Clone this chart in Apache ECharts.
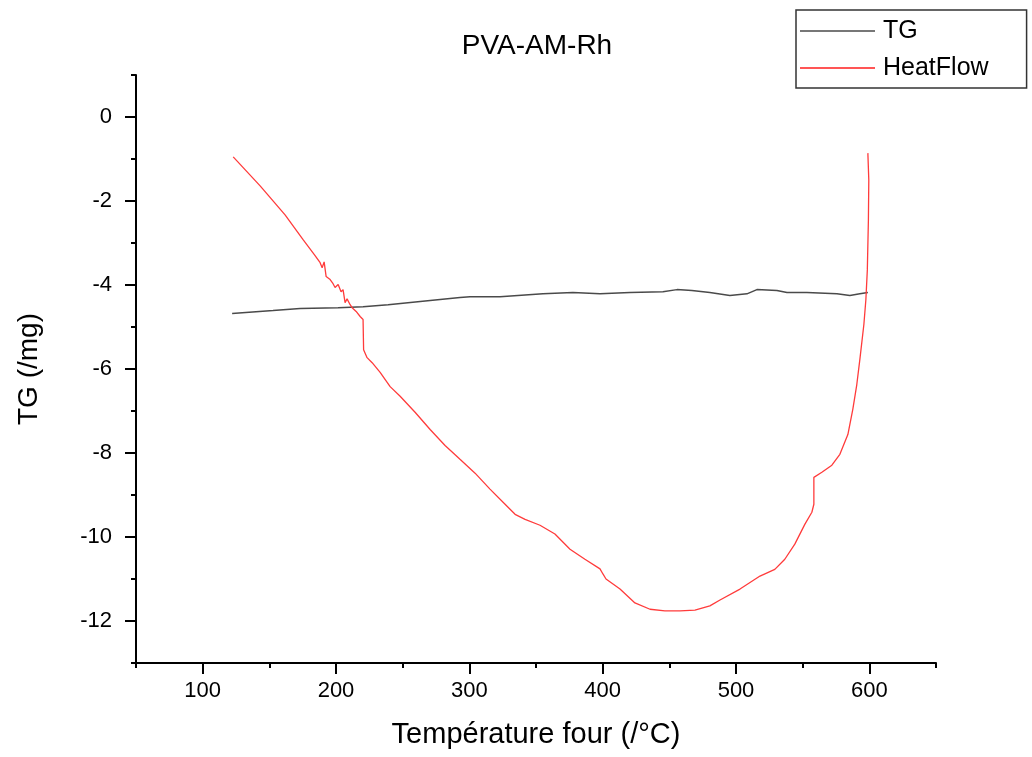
<!DOCTYPE html>
<html>
<head>
<meta charset="utf-8">
<script src="https://cdn.jsdelivr.net/npm/echarts@6/dist/echarts.min.js"></script>
<style>html,body{margin:0;padding:0;background:#fff}#c{width:1032px;height:757px}</style>
</head>
<body>
<div id="c"></div>
<script>
// Tick values
const xMajorTicks = [100, 200, 300, 400, 500, 600];
const xMinorTicks = [50, 150, 250, 350, 450, 550, 650];
const yMajorTicks = [-12, -10, -8, -6, -4, -2, 0];
const yMinorTicks = [-13, -11, -9, -7, -5, -3, -1, 1];

// TG series (temperature, value)
const tgX = [122.1, 152.8, 173.1, 201.6, 220.3, 239.1, 270.6, 293.0, 300.5, 323.0, 355.2, 377.7, 398.0, 420.5, 445.2, 455.7, 466.9, 480.4, 495.4, 508.2, 515.7, 530.7, 538.2, 553.2, 575.7, 585.4, 592.9, 598.9];
const tgY = [-4.68, -4.61, -4.56, -4.54, -4.52, -4.47, -4.37, -4.30, -4.28, -4.28, -4.21, -4.18, -4.21, -4.18, -4.16, -4.11, -4.13, -4.18, -4.25, -4.21, -4.11, -4.13, -4.18, -4.18, -4.21, -4.25, -4.21, -4.18];

// HeatFlow series (temperature, value)
const hfX = [122.9, 143.1, 161.8, 175.3, 184.3, 188.1, 189.6, 191.1, 192.6, 195.6, 197.8, 199.3, 201.6, 203.8, 205.3, 206.8, 208.3, 210.6, 212.1, 215.1, 218.1, 220.3, 220.7, 223.3, 227.1, 233.1, 240.6, 248.1, 259.3, 270.6, 281.8, 293.0, 304.3, 315.5, 326.8, 334.3, 341.8, 353.0, 364.2, 375.5, 386.7, 398.0, 400.2, 402.5, 413.0, 424.2, 435.5, 446.7, 458.0, 469.2, 480.4, 488.0, 503.0, 518.0, 529.1, 536.6, 544.1, 551.6, 556.9, 558.4, 558.4, 564.4, 571.9, 577.9, 583.9, 587.6, 590.6, 592.9, 595.9, 597.4, 598.5, 599.3, 599.6, 598.9];
const hfY = [-0.95, -1.64, -2.33, -2.92, -3.30, -3.47, -3.59, -3.45, -3.80, -3.87, -3.97, -4.06, -3.99, -4.16, -4.11, -4.42, -4.33, -4.47, -4.54, -4.63, -4.75, -4.82, -5.54, -5.73, -5.85, -6.08, -6.42, -6.65, -7.03, -7.44, -7.82, -8.15, -8.48, -8.86, -9.22, -9.46, -9.58, -9.72, -9.93, -10.29, -10.53, -10.76, -10.88, -11.00, -11.24, -11.57, -11.72, -11.76, -11.76, -11.74, -11.64, -11.50, -11.24, -10.93, -10.77, -10.53, -10.17, -9.70, -9.41, -9.22, -8.58, -8.46, -8.29, -8.03, -7.56, -6.96, -6.37, -5.77, -4.94, -4.35, -3.64, -2.45, -1.50, -0.86];

const FONT = '"Liberation Sans", Arial, sans-serif';
const zip = (a, b) => a.map((v, i) => [v, b[i]]);

const chart = echarts.init(document.getElementById('c'), null, {renderer: 'canvas'});
const axisLineStyle = {color: '#000', width: 2};
chart.setOption({
  animation: false,
  backgroundColor: '#fff',
  title: {
    text: 'PVA-AM-Rh', left: 532, top: 27, textAlign: 'center',
    textStyle: {fontFamily: FONT, fontSize: 28, fontWeight: 'normal', color: '#000'}
  },
  legend: {
    orient: 'vertical', left: 796, top: 10,
    padding: [6, 38, 5, 4], itemGap: 7,
    itemWidth: 75, itemHeight: 2, icon: 'rect',
    borderColor: '#333', borderWidth: 1.5,
    textStyle: {fontFamily: FONT, fontSize: 25, color: '#000', lineHeight: 30, padding: [0, 0, 0, 3]},
    data: [
      {name: 'TG', itemStyle: {color: '#777'}},
      {name: 'HeatFlow', itemStyle: {color: '#ff5555'}}
    ]
  },
  grid: {left: 136, right: 96, top: 75, bottom: 94, containLabel: false},
  xAxis: [{
    type: 'value', min: 50, max: 650, position: 'bottom',
    name: 'Température four (/°C)', nameLocation: 'middle', nameGap: 57,
    nameTextStyle: {fontFamily: FONT, fontSize: 29, color: '#000'},
    axisLine: {show: true, onZero: false, lineStyle: axisLineStyle},
    axisTick: {show: true, length: 11, lineStyle: {color: '#000', width: 2}, customValues: xMajorTicks},
    axisLabel: {fontFamily: FONT, fontSize: 22, color: '#000', margin: 17, customValues: xMajorTicks},
    splitLine: {show: false}
  }, {
    type: 'value', min: 50, max: 650, position: 'bottom',
    axisLine: {show: false, onZero: false},
    axisTick: {show: true, length: 5, lineStyle: {color: '#000', width: 2}, customValues: xMinorTicks},
    axisLabel: {show: false},
    splitLine: {show: false}
  }],
  yAxis: [{
    type: 'value', min: -13, max: 1, position: 'left',
    name: 'TG (/mg)', nameLocation: 'middle', nameGap: 93,
    nameTextStyle: {fontFamily: FONT, fontSize: 28, color: '#000'},
    axisLine: {show: true, onZero: false, lineStyle: axisLineStyle},
    axisTick: {show: true, length: 11, lineStyle: {color: '#000', width: 2}, customValues: yMajorTicks},
    axisLabel: {fontFamily: FONT, fontSize: 22, color: '#000', margin: 24, customValues: yMajorTicks},
    splitLine: {show: false}
  }, {
    type: 'value', min: -13, max: 1, position: 'left',
    axisLine: {show: false, onZero: false},
    axisTick: {show: true, length: 5, lineStyle: {color: '#000', width: 2}, customValues: yMinorTicks},
    axisLabel: {show: false},
    splitLine: {show: false}
  }],
  series: [{
    name: 'TG', type: 'line', xAxisIndex: 0, yAxisIndex: 0,
    data: zip(tgX, tgY), symbol: 'none', showSymbol: false,
    lineStyle: {color: '#4a4a4a', width: 1.5}, itemStyle: {color: '#777'}
  }, {
    name: 'HeatFlow', type: 'line', xAxisIndex: 0, yAxisIndex: 0,
    data: zip(hfX, hfY), symbol: 'none', showSymbol: false,
    lineStyle: {color: '#ff3b3b', width: 1.3}, itemStyle: {color: '#ff5555'}
  }]
});
</script>
</body>
</html>
